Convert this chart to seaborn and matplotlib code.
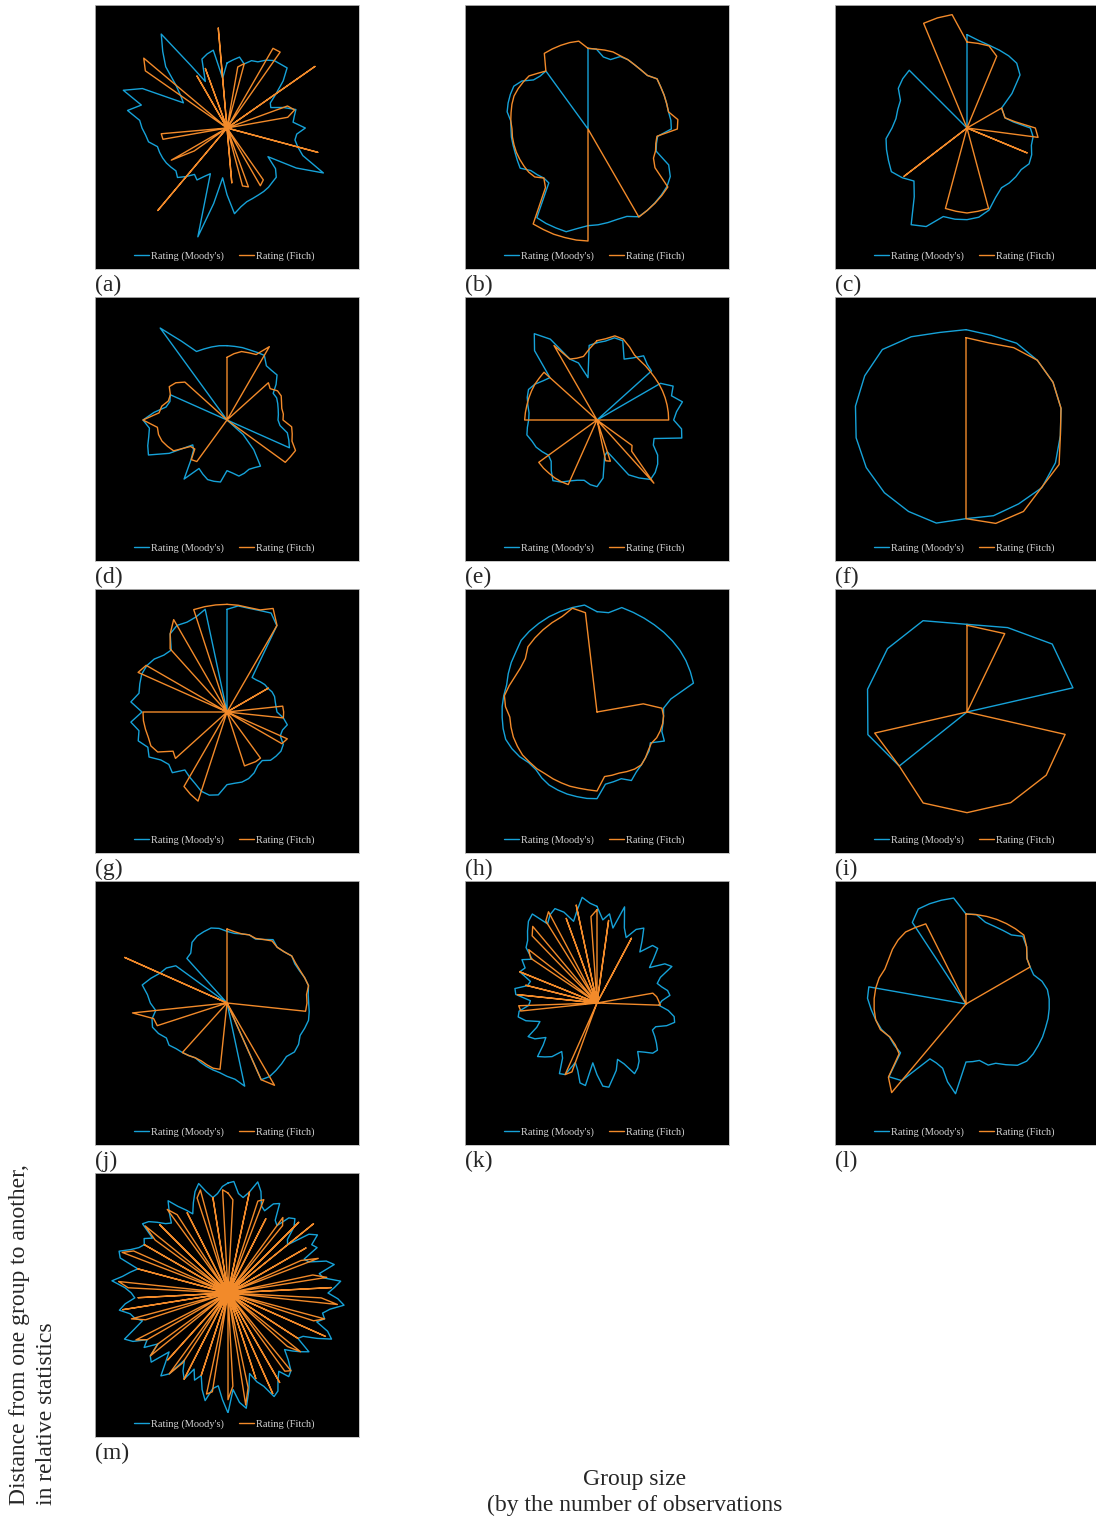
import numpy as np
import matplotlib
matplotlib.use('Agg')
import matplotlib.pyplot as plt
import seaborn as sns

sns.set_style('white')
plt.rcParams['font.family'] = ['Liberation Serif', 'DejaVu Serif']

BLUE = '#16a2d8'
ORANGE = '#f28a2a'

# radar values (same arbitrary unit in every panel)
blue_a = [195, 205, 216, 199, 215, 219, 235, 247, 250, 255, 220, 180, 150, 145, 180, 214, 205, 199,
          235, 210, 207, 220, 242, 319, 240, 150, 190, 209, 212, 217, 220, 222, 225, 229, 240, 258,
          200, 150, 230, 338, 146, 160, 180, 170, 190, 210, 200, 205, 210, 213, 215, 216, 239, 245,
          255, 263, 303, 266, 331, 280, 151, 170, 200, 260, 300, 344, 216, 154, 220, 230, 237, 150]
orange_a = [0, 0, 186, 200, 0, 0, 276, 278, 0, 0, 0, 322, 0, 0, 193, 210, 185, 0,
            0, 0, 0, 282, 0, 0, 0, 0, 0, 0, 0, 190, 200, 0, 188, 180, 0, 165,
            0, 0, 0, 0, 0, 0, 0, 0, 323, 0, 0, 120, 193, 0, 0, 0, 195, 198,
            0, 0, 0, 0, 0, 0, 0, 299, 326, 0, 0, 0, 180, 0, 190, 0, 0, 301]

blue_b = [242, 241, 221, 219, 238, 240, 238, 238, 240, 256, 252, 250, 248, 247, 250, 250, 210, 210, 215, 265,
          285, 293, 296, 299, 302, 304, 287, 285, 287, 289, 290, 300, 315, 312, 310, 307, 200, 198, 205, 212,
          235, 232, 230, 230, 231, 231, 233, 248, 252, 255, 257, 245, 220, 214, 215, 0, 0, 0, 0, 0]
orange_b = [242, 241, 242, 243, 240, 240, 238, 238, 240, 256, 252, 250, 248, 247, 271, 268, 208, 208, 213, 215,
            232, 296, 298, 300, 302, 305, 0, 0, 0, 0, 336, 335, 333, 332, 330, 329, 217, 198, 215, 220,
            222, 224, 226, 227, 228, 228, 233, 236, 240, 243, 242, 240, 238, 225, 215, 262, 263, 264, 265, 265]

blue_c = [280, 265, 257, 253, 250, 245, 225, 170, 120, 118, 118, 140, 190, 200, 200, 210,
          215, 205, 207, 208, 207, 225, 255, 270, 275, 276, 275, 320, 335, 260, 225, 245,
          262, 255, 250, 245, 225, 215, 215, 216, 238, 243, 245, 0, 0, 0, 0, 0]
orange_c = [258, 256, 255, 233, 0, 0, 0, 0, 120, 118, 118, 145, 205, 215, 0, 195,
            0, 0, 0, 0, 0, 0, 250, 252, 255, 252, 250, 0, 0, 0, 0, 238,
            0, 0, 0, 0, 0, 0, 0, 0, 0, 0, 0, 0, 0, 340, 342, 343]

blue_d = [223, 222, 222, 221, 222, 224, 201, 200, 202, 182, 160, 163, 160, 157, 155, 153, 160, 185, 195, 205,
          0, 0, 65, 120, 171, 165, 162, 168, 172, 160, 152, 187, 188, 188, 178, 168, 219, 162, 135, 127,
          200, 258, 250, 240, 234, 252, 220, 187, 180, 186, 0, 0, 0, 0, 341, 273, 225, 224, 224, 224]
orange_d = [188, 200, 210, 212, 215, 254, 0, 0, 167, 160, 175, 178, 172, 168, 170, 168, 195, 200, 205, 225,
            220, 216, 0, 0, 0, 0, 0, 0, 0, 0, 0, 0, 0, 0, 0, 0, 154, 160, 130, 135,
            185, 195, 205, 210, 210, 252, 205, 200, 185, 186, 200, 190, 170, 0, 0, 0, 0, 0, 0, 0]

blue_e = [232, 238, 252, 250, 200, 215, 238, 225, 220, 0, 220, 250, 235, 262, 240, 230, 255, 260, 180, 185,
          210, 225, 235, 240, 215, 190, 130, 100, 110, 175, 200, 195, 185, 190, 200, 215, 225, 205, 185, 180,
          190, 200, 205, 215, 210, 205, 205, 212, 220, 225, 215, 200, 190, 280, 320, 280, 200, 180, 130, 225]
orange_e = [238, 245, 258, 255, 240, 225, 220, 218, 216, 215, 215, 215, 215, 215, 215, 215, 0, 0, 0, 0,
            0, 130, 140, 255, 0, 0, 0, 130, 125, 0, 0, 0, 0, 0, 212, 214, 215, 215, 216, 216,
            0, 0, 0, 0, 0, 217, 216, 215, 215, 215, 215, 214, 214, 0, 0, 258, 200, 195, 195, 215]

blue_f = [277, 271, 281, 283, 287, 288, 286, 295, 301, 292, 293, 290, 316, 319, 324, 329, 333, 335, 334, 332, 304, 280]
orange_f = [253, 247, 265, 283, 287, 288, 286, 307, 300, 319, 317, 290, 0, 0, 0, 0, 0, 0, 0, 0, 0, 0]

blue_g = [308, 320, 318, 320, 325, 299, 128, 130, 135, 140, 142, 148, 150, 148, 148, 150, 170, 185, 175, 175,
          195, 200, 198, 195, 180, 185, 200, 210, 215, 215, 218, 250, 255, 250, 235, 225, 215, 245, 235, 245,
          270, 260, 280, 270, 290, 255, 290, 270, 275, 280, 278, 270, 255, 250, 290, 300, 295, 300, 315, 0]
orange_g = [323, 322, 320, 322, 340, 300, 0, 0, 0, 0, 143, 0, 0, 0, 168, 170, 170, 0, 0, 198,
            190, 0, 0, 0, 171, 172, 170, 170, 0, 0, 0, 0, 0, 281, 270, 258, 0, 0, 208, 200,
            240, 250, 248, 250, 252, 252, 0, 0, 0, 292, 280, 0, 0, 255, 290, 320, 0, 323, 323, 323]

blue_h = [301, 300, 322, 318, 315, 313, 312, 311, 310, 308, 305, 302, 225, 200, 200, 201, 203, 220,
          185, 195, 200, 207, 215, 230, 213, 215, 218, 260, 261, 261, 262, 262, 262, 258, 252, 255,
          268, 278, 286, 286, 285, 285, 284, 283, 290, 297, 303, 313, 316, 318, 320, 321, 322, 323]
orange_h = [0, 0, 0, 0, 0, 0, 0, 0, 0, 0, 0, 0, 141, 195, 200, 200, 198, 195,
            188, 192, 200, 207, 205, 200, 195, 195, 195, 237, 235, 235, 237, 238, 240, 242, 248, 252,
            258, 260, 262, 262, 262, 275, 282, 275, 268, 265, 268, 285, 290, 295, 300, 305, 320, 300]

blue_i = [263, 281, 327, 326, 0, 0, 0, 0, 0, 260, 305, 306, 305, 304]
orange_i = [260, 261, 0, 0, 302, 304, 302, 302, 303, 260, 284, 0, 0, 0]

blue_j = [215, 210, 212, 215, 210, 220, 235, 225, 230, 240, 235, 238, 245, 250, 245, 245, 248, 250, 245, 240,
          248, 250, 240, 245, 250, 255, 252, 0, 255, 230, 220, 210, 205, 200, 195, 190, 195, 200, 205, 215,
          210, 225, 235, 230, 215, 230, 240, 260, 240, 220, 210, 190, 0, 180, 185, 210, 220, 225, 230, 225]
orange_j = [222, 215, 212, 215, 212, 220, 230, 225, 230, 240, 238, 240, 245, 250, 240, 240, 237, 0, 0, 0,
            0, 0, 0, 0, 0, 285, 252, 0, 0, 0, 0, 200, 200, 195, 190, 190, 195, 200, 0, 0,
            0, 0, 220, 225, 285, 0, 0, 0, 0, 336, 0, 0, 0, 0, 0, 0, 0, 0, 0, 0]

blue_k = [290, 250, 270, 230, 300, 240, 215, 250, 265, 230, 200, 240, 245, 215, 190, 235, 250, 205,
          190, 200, 215, 220, 195, 185, 215, 235, 240, 220, 190, 185, 200, 215, 230, 225, 205, 190,
          215, 230, 240, 200, 180, 210, 230, 255, 250, 215, 180, 250, 245, 210, 190, 235, 240, 195,
          180, 210, 225, 240, 205, 185, 215, 230, 195, 180, 220, 240, 235, 205, 200, 245, 250, 215,
          210, 250, 240, 260, 235, 270, 280, 300, 320, 330, 280, 300, 310, 290, 255, 285, 320, 300]
orange_k = [280, 0, 250, 0, 0, 0, 0, 220, 0, 0, 0, 0, 0, 0, 0, 0, 0, 0,
            0, 0, 170, 180, 185, 190, 0, 0, 0, 0, 0, 0, 0, 0, 0, 0, 0, 0,
            0, 0, 0, 0, 0, 0, 0, 0, 0, 0, 0, 0, 0, 0, 220, 235, 0, 0,
            0, 0, 0, 0, 0, 0, 0, 0, 0, 0, 0, 0, 230, 235, 0, 240, 0, 220,
            0, 250, 0, 0, 240, 260, 0, 280, 300, 0, 290, 310, 0, 270, 0, 300, 0, 260]

blue_l = [270, 270, 252, 248, 247, 248, 265, 250, 228, 222, 221, 238, 248, 250, 250, 250, 249, 250,
          250, 251, 250, 240, 218, 199, 195, 174, 174, 174, 271, 240, 205, 198, 197, 300, 318, 245,
          248, 250, 265, 275, 285, 296, 296, 0, 0, 0, 0, 0, 0, 293, 319, 320, 320, 320]
orange_l = [270, 270, 270, 270, 270, 270, 270, 250, 228, 222, 0, 0, 0, 0, 0, 0, 0, 0,
            0, 0, 0, 0, 0, 0, 0, 0, 0, 0, 0, 0, 0, 0, 0, 347, 320, 250,
            245, 249, 268, 275, 276, 276, 275, 272, 265, 268, 275, 280, 282, 275, 269, 0, 0, 0]

blue_m = [330, 335, 300, 290, 310, 345, 320, 280, 270, 300, 310, 260, 250, 290, 300, 280, 240, 230, 300, 320,
          290, 300, 250, 260, 310, 330, 280, 290, 340, 320, 300, 330, 350, 310, 290, 300, 280, 320, 340, 300,
          260, 250, 300, 280, 260, 240, 270, 300, 310, 280, 300, 330, 340, 300, 280, 250, 300, 350, 330, 290,
          360, 320, 280, 290, 330, 300, 260, 280, 250, 290, 270, 240, 300, 320, 280, 250, 310, 300, 260, 300,
          280, 320, 340, 300, 270, 290, 300, 330, 310, 280, 290, 310, 350, 320, 300, 280, 340, 350, 320, 300,
          290, 300, 280, 330, 320, 300, 280, 270, 300, 330, 300, 280, 260, 290, 320, 340, 310, 290, 300, 320]
orange_m = [300, 280, 0, 0, 310, 0, 290, 300, 0, 250, 0, 0, 280, 260, 0, 300, 0, 330, 0, 0,
            270, 0, 240, 290, 0, 0, 260, 300, 0, 310, 0, 280, 330, 0, 0, 300, 270, 0, 320, 0,
            0, 250, 0, 280, 240, 0, 0, 300, 290, 0, 310, 0, 330, 0, 270, 0, 290, 340, 0, 280,
            320, 0, 0, 300, 310, 0, 260, 0, 0, 290, 0, 250, 300, 0, 270, 0, 0, 300, 260, 0,
            280, 310, 0, 0, 260, 300, 0, 320, 0, 270, 0, 300, 330, 0, 0, 280, 0, 340, 310, 0,
            290, 0, 270, 320, 0, 290, 0, 0, 310, 280, 0, 270, 0, 0, 300, 320, 0, 290, 0, 310]

letters = ['a', 'b', 'c', 'd', 'e', 'f', 'g', 'h', 'i', 'j', 'k', 'l', 'm']
series = [(blue_a, orange_a), (blue_b, orange_b), (blue_c, orange_c), (blue_d, orange_d),
          (blue_e, orange_e), (blue_f, orange_f), (blue_g, orange_g), (blue_h, orange_h),
          (blue_i, orange_i), (blue_j, orange_j), (blue_k, orange_k), (blue_l, orange_l),
          (blue_m, orange_m)]
labels = ["Rating (Moody's)", 'Rating (Fitch)']

# layout in pixels
W, H = 1096, 1524
col_x = [95, 465, 835]
row_y = [5, 297, 589, 881, 1173]
SIZE = 264
centre_off = [(132, 123), (123, 124), (132, 123), (132, 123), (132, 123), (131, 125), (132, 123),
              (132, 123), (132, 123), (132, 122), (132, 122), (131, 123), (133, 120)]
R_PX = 120
R_MAX = 360


def rect(x, y, w, h):
    return [x / W, 1 - (y + h) / H, w / W, h / H]


fig = plt.figure(figsize=(W / 100, H / 100), dpi=100)

for i, (letter, (blue, orange)) in enumerate(zip(letters, series)):
    x0, y0 = col_x[i % 3], row_y[i // 3]
    bg = fig.add_axes(rect(x0, y0, SIZE, SIZE))
    bg.set_facecolor('black')
    bg.set_xticks([])
    bg.set_yticks([])
    for s in bg.spines.values():
        s.set_color('#bdbdbd')
        s.set_linewidth(0.6)

    cx, cy = x0 + centre_off[i][0], y0 + centre_off[i][1]
    pax = fig.add_axes(rect(cx - R_PX, cy - R_PX, 2 * R_PX, 2 * R_PX), projection='polar')
    pax.set_theta_zero_location('N')
    pax.set_theta_direction(-1)
    for vals, color in ((blue, BLUE), (orange, ORANGE)):
        n = len(vals)
        theta = np.linspace(0, 2 * np.pi, n + 1)
        r = np.append(vals, vals[0])
        sns.lineplot(x=theta, y=r, sort=False, estimator=None, color=color,
                     lw=1.0, ax=pax, legend=False)
    pax.set_ylim(0, R_MAX)
    pax.axis('off')

    bg.legend(pax.get_lines()[:2], labels, loc='lower center', bbox_to_anchor=(0.49, -0.005),
              ncol=2, frameon=False, fontsize=7.5, handlelength=1.4, handletextpad=0.2,
              columnspacing=1.5, labelcolor='#d4d4d4')

    fig.text(x0 / W, 1 - (y0 + SIZE + 16) / H, f'({letter})', ha='left', va='center', fontsize=17)

fig.text(20 / W, 1 - 1505 / H, 'Distance from one group to another,', rotation=90,
         ha='center', va='bottom', fontsize=17)
fig.text(47 / W, 1 - 1505 / H, 'in relative statistics', rotation=90,
         ha='center', va='bottom', fontsize=17)
fig.text(635 / W, 1 - 1469 / H, 'Group size\n(by the number of observations', ha='center',
         va='top', fontsize=17, linespacing=1.3)

fig.savefig('out.png', dpi=100, facecolor='white')
